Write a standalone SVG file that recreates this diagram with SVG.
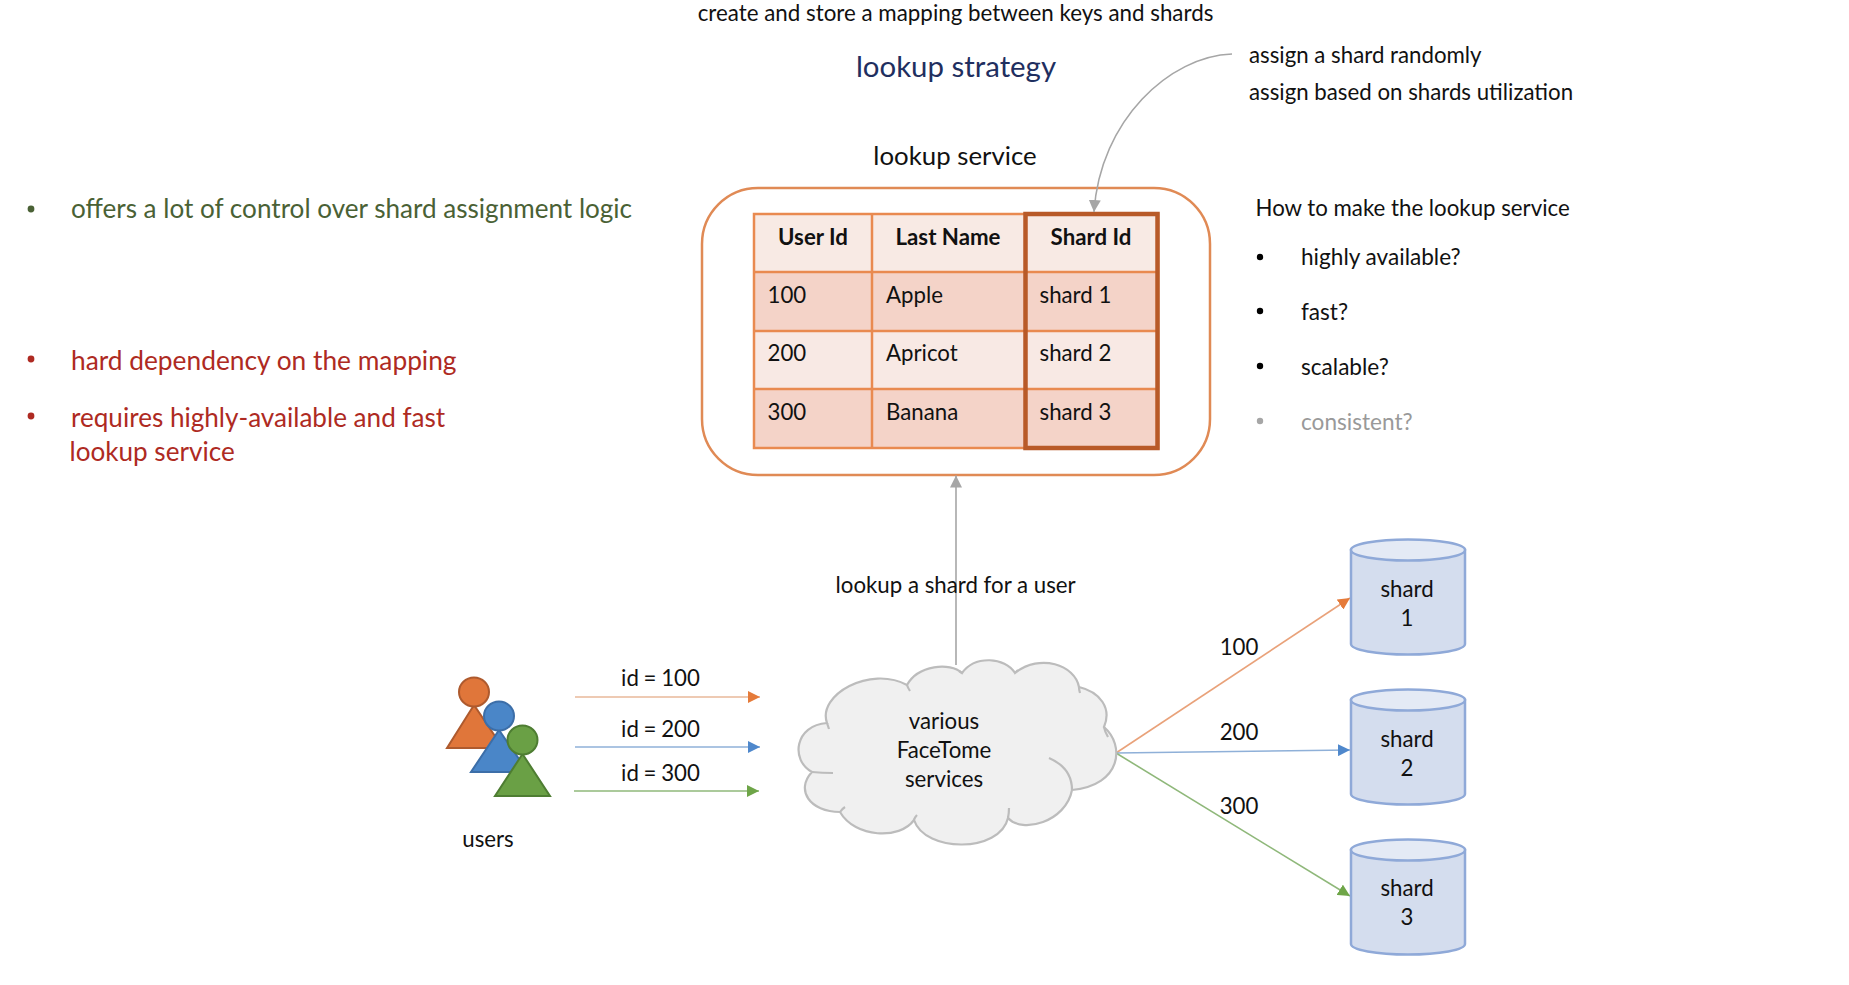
<svg xmlns="http://www.w3.org/2000/svg" width="1849" height="985" viewBox="0 0 1849 985">
<style>
text{font-family:"Lato","Carlito","Liberation Sans",sans-serif;fill:#111;font-size:22.25px}
.m{text-anchor:middle}
.th{font-weight:700;text-anchor:middle}
.g{fill:#4a6135;font-size:26.1px}
.r{fill:#ae2a22;font-size:26.1px}
.q{font-size:22.6px}
.tl{stroke:#e98a50;stroke-width:2.5;fill:none}
.cyl{fill:#d4ddee;stroke:#8fa9d8;stroke-width:2.5}
.cyt{fill:#e4eaf5;stroke:#8fa9d8;stroke-width:2.5}
.ln{fill:none;stroke-width:1.6}
.gr{fill:none;stroke:#a6a6a6;stroke-width:1.6}
.cl{fill:none;stroke:#bcbcbc;stroke-width:2.2}
</style>
<defs>
<marker id="ao" markerUnits="userSpaceOnUse" markerWidth="13" markerHeight="12" refX="12" refY="6" orient="auto"><path d="M0 0L12 6L0 12Z" fill="#e57b3a"/></marker>
<marker id="ab" markerUnits="userSpaceOnUse" markerWidth="13" markerHeight="12" refX="12" refY="6" orient="auto"><path d="M0 0L12 6L0 12Z" fill="#4f88cc"/></marker>
<marker id="ag" markerUnits="userSpaceOnUse" markerWidth="13" markerHeight="12" refX="12" refY="6" orient="auto"><path d="M0 0L12 6L0 12Z" fill="#6ea548"/></marker>
<marker id="ay" markerUnits="userSpaceOnUse" markerWidth="13" markerHeight="12" refX="12" refY="6" orient="auto"><path d="M0 0L12 6L0 12Z" fill="#a6a6a6"/></marker>
</defs>
<rect width="1849" height="985" fill="#fff"/>
<g id="texts-top">
<text class="m" x="955.5" y="21" style="font-size:22.35px">create and store a mapping between keys and shards</text>
<text class="m" x="956" y="77" style="fill:#1f2f60;font-size:29.4px">lookup strategy</text>
<text class="m" x="955" y="165" style="font-size:25.8px">lookup service</text>
<text x="1249" y="63">assign a shard randomly</text>
<text x="1249" y="100">assign based on shards utilization</text>
</g>
<g id="pros-cons">
<circle cx="31" cy="209" r="3.4" fill="#4a6135"/>
<text class="g" x="71" y="218">offers a lot of control over shard assignment logic</text>
<circle cx="31" cy="359" r="3.4" fill="#ae2a22"/>
<text class="r" x="71" y="370" style="font-size:26.3px">hard dependency on the mapping</text>
<circle cx="31" cy="416" r="3.4" fill="#ae2a22"/>
<text class="r" x="71" y="427">requires highly-available and fast</text>
<text class="r" x="69.5" y="461">lookup service</text>
</g>
<g id="questions">
<text x="1255.5" y="216">How to make the lookup service</text>
<circle cx="1260" cy="257" r="3.2"/><text class="q" x="1301" y="265">highly available?</text>
<circle cx="1260" cy="311" r="3.2"/><text class="q" x="1301" y="320">fast?</text>
<circle cx="1260" cy="366" r="3.2"/><text class="q" x="1301" y="375">scalable?</text>
<circle cx="1260" cy="421" r="3.2" fill="#a6a6a6"/><text class="q" x="1301" y="430" style="fill:#999">consistent?</text>
</g>
<g id="lookup-service">
<rect x="702" y="188" width="508" height="287" rx="56" ry="56" fill="#fff" stroke="#e08a55" stroke-width="2.5"/>
<rect x="754" y="214" width="404" height="58" fill="#f8eae4"/>
<rect x="754" y="272" width="404" height="59" fill="#f4d3c8"/>
<rect x="754" y="331" width="404" height="58" fill="#f8e9e4"/>
<rect x="754" y="389" width="404" height="59" fill="#f4d3c8"/>
<path class="tl" d="M754 214H1158V448H754ZM754 272H1158M754 331H1158M754 389H1158M872 214V448"/>
<rect x="1025.5" y="214" width="132" height="234" fill="none" stroke="#b85a28" stroke-width="4.5"/>
<text class="th" x="813" y="244.5">User Id</text>
<text class="th" x="948" y="244.5">Last Name</text>
<text class="th" x="1091" y="244.5">Shard Id</text>
<text x="767.5" y="302.5">100</text><text x="886" y="302.5">Apple</text><text x="1039.5" y="302.5">shard 1</text>
<text x="767.5" y="361">200</text><text x="886" y="361">Apricot</text><text x="1039.5" y="361">shard 2</text>
<text x="767.5" y="420">300</text><text x="886" y="420">Banana</text><text x="1039.5" y="420">shard 3</text>
</g>
<g id="connectors">
<path class="gr" d="M1232 54C1170 56 1100 120 1094 212" marker-end="url(#ay)"/>
<path class="gr" d="M956 665V475.5" marker-end="url(#ay)"/>
<path class="ln" stroke="#e9b89a" d="M575 697H760" marker-end="url(#ao)"/>
<path class="ln" stroke="#8fb0d8" d="M575 747H760" marker-end="url(#ab)"/>
<path class="ln" stroke="#8fb87a" d="M574 791H759" marker-end="url(#ag)"/>
<path class="ln" stroke="#e9a27a" d="M1116 753L1350 598" marker-end="url(#ao)"/>
<path class="ln" stroke="#8fb0d8" d="M1116 753L1350 750" marker-end="url(#ab)"/>
<path class="ln" stroke="#8fb87a" d="M1116 753L1350 896" marker-end="url(#ag)"/>
</g>
<g id="connector-labels">
<text class="m" x="660.5" y="686" word-spacing="-1">id = 100</text>
<text class="m" x="660.5" y="737" word-spacing="-1">id = 200</text>
<text class="m" x="660.5" y="781" word-spacing="-1">id = 300</text>
<text class="m" x="955.6" y="593">lookup a shard for a user</text>
<text class="m" x="1239" y="655">100</text>
<text class="m" x="1239" y="739.5">200</text>
<text class="m" x="1239" y="814">300</text>
</g>
<g id="users">
<path d="M474 705L503 748H447Z" fill="#e0763a" stroke="#ae5a2e" stroke-width="2"/>
<ellipse cx="474" cy="692" rx="15" ry="14.5" fill="#e0763a" stroke="#ae5a2e" stroke-width="2"/>
<path d="M499 730L528 772H471Z" fill="#4a86c8" stroke="#3c6ea8" stroke-width="2"/>
<ellipse cx="499" cy="716" rx="15" ry="14.5" fill="#4a86c8" stroke="#3c6ea8" stroke-width="2"/>
<path d="M522.5 754L550 796H495Z" fill="#6aa045" stroke="#4e7d32" stroke-width="2"/>
<ellipse cx="522.5" cy="740" rx="15" ry="14.5" fill="#6aa045" stroke="#4e7d32" stroke-width="2"/>
<text class="m" x="488" y="847">users</text>
</g>
<g id="cloud">
<path d="M827 723C817 695 870 665 907 685C918 665 950 662 962 673C975 655 1005 657 1015 673C1040 653 1075 665 1079 687C1100 692 1112 708 1104 727C1125 745 1122 785 1072 790C1066 822 1022 834 1008 818C1000 853 925 853 914 820C900 840 855 838 840 812C810 812 795 790 812 772C790 760 795 725 827 723Z" fill="#f0f0f0" stroke="#bcbcbc" stroke-width="2.2"/>
<path class="cl" d="M812 772Q822 773 833 773M827 723Q828 726 829 729M907 685Q908 688 910 691M962 673L959 671M1015 673L1018 670M1079 687Q1079 690 1080 693M1104 727Q1105 732 1108 737M1049 758Q1072 768 1072 790M1008 818Q1009 813 1009 808M914 820Q915 817 917 815M840 812Q842 809 845 807"/>
<text class="m" x="944" y="729">various</text>
<text class="m" x="944" y="758">FaceTome</text>
<text class="m" x="944" y="787">services</text>
</g>
<g id="shard-1">
<path class="cyl" d="M1351 550V644A57 10.5 0 0 0 1465 644V550Z"/><ellipse class="cyt" cx="1408" cy="550" rx="57" ry="10.5"/>
<text class="m" x="1407" y="596.5">shard</text><text class="m" x="1407" y="625.5">1</text>
</g>
<g id="shard-2">
<path class="cyl" d="M1351 700V794A57 10.5 0 0 0 1465 794V700Z"/><ellipse class="cyt" cx="1408" cy="700" rx="57" ry="10.5"/>
<text class="m" x="1407" y="746.5">shard</text><text class="m" x="1407" y="775.5">2</text>
</g>
<g id="shard-3">
<path class="cyl" d="M1351 850V944A57 10.5 0 0 0 1465 944V850Z"/><ellipse class="cyt" cx="1408" cy="850" rx="57" ry="10.5"/>
<text class="m" x="1407" y="895.5">shard</text><text class="m" x="1407" y="924.5">3</text>
</g>
</svg>
